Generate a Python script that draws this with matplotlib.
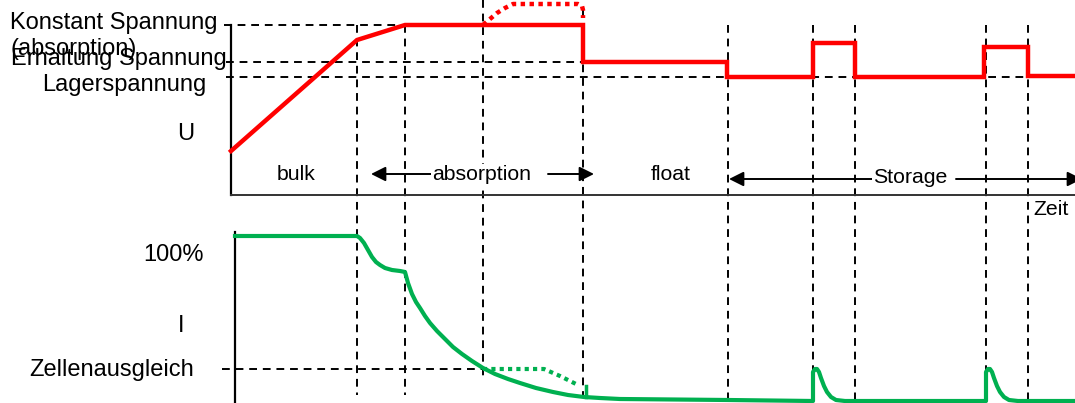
import matplotlib
matplotlib.use("Agg")
import matplotlib.pyplot as plt

plt.rcParams['font.family'] = ['Liberation Sans', 'DejaVu Sans']

# --- Spannung (U), oben ---
u_x = [231, 357, 405, 583, 583, 727, 727, 813, 813, 855, 855, 984, 984, 1028, 1028, 1075]
u_y = [151, 40, 25, 25, 62, 62, 77, 77, 43, 43, 77, 77, 47, 47, 76, 76]
u_dot_x = [483, 490, 497, 505, 513, 578, 582, 583, 583]
u_dot_y = [25, 19, 13, 8, 4, 4, 6, 10, 18]

# --- Strom (I), unten ---
i_x = [235, 357, 360, 364, 368, 372, 376, 380, 385, 392, 400, 405,
       408, 412, 416, 420, 425, 430, 437, 445, 453, 462, 472, 483, 495, 508, 520, 536, 553, 568, 584, 600, 620,
       728, 813, 813, 815, 817, 819, 821, 824, 827, 831, 836, 845,
       986, 986, 988, 990, 992, 994, 997, 1000, 1004, 1009, 1018, 1075]
i_y = [236, 236, 238, 243, 250, 257, 262, 265, 268, 270, 271, 272,
       283, 294, 302, 308, 316, 323, 331, 339, 347, 354, 361, 368, 374, 379, 383, 388, 392, 395, 397, 398, 399,
       400, 401, 372, 369, 369, 372, 378, 386, 392, 397, 400, 401,
       401, 372, 369, 369, 372, 378, 386, 392, 397, 400, 401, 401]
i_dot_x = [483, 544, 560, 578]
i_dot_y = [369, 369, 376, 385]

# Phasengrenzen (vertikal gestrichelt): x, y von, y bis
v_x = [357, 405, 483, 583, 728, 813, 855, 986, 1028]
v_top = [25, 25, 0, 10, 25, 25, 25, 25, 25]
v_bot = [395, 395, 376, 398, 400, 400, 400, 400, 400]

# Spannungsniveaus (horizontal gestrichelt)
h_y = [25, 62, 77, 369]
h_x0 = [224, 226, 226, 222]
h_x1 = [583, 583, 1040, 483]

left_labels = ["Konstant Spannung", "(absorption)", "Erhaltung Spannung", "Lagerspannung",
               "U", "100%", "I", "Zellenausgleich"]
left_pos = [(10, 29), (10, 55), (11, 65), (42, 91), (177, 140), (143, 261), (178, 332), (29, 376)]

red = '#FF0000'
green = '#00B050'

fig = plt.figure(figsize=(10.75, 4.03), dpi=100)
ax = fig.add_axes([0, 0, 1, 1])
ax.set_xlim(0, 1075)
ax.set_ylim(403, 0)
ax.axis('off')

dash = dict(color='black', lw=1.4, linestyle=(0, (4, 3)), zorder=1)
for x, a, b in zip(v_x, v_top, v_bot):
    ax.plot([x, x], [a, b], **dash)
for y, a, b in zip(h_y, h_x0, h_x1):
    ax.plot([a, b], [y, y], **dash)

# Achsen
ax.plot([231, 231], [25, 195], color='black', lw=1.6, zorder=2)
ax.plot([231, 1075], [195, 195], color='#333333', lw=1.4, zorder=2)
ax.plot([235, 235], [232, 403], color='black', lw=1.6, zorder=2)

ax.plot(u_x, u_y, color=red, lw=3.2, solid_joinstyle='miter', zorder=4)
ax.plot(u_dot_x, u_dot_y, color=red, lw=3.2, linestyle=(0, (1, 1)), zorder=4)
ax.plot(i_x, i_y, color=green, lw=3, solid_joinstyle='round', zorder=4)
ax.plot(i_dot_x, i_dot_y, color=green, lw=3, linestyle=(0, (1, 1)), zorder=4)
ax.plot([586, 586], [386, 397], color=green, lw=2.5, zorder=4)

for s, (x, y) in zip(left_labels, left_pos):
    ax.text(x, y, s, fontsize=17, ha='left', va='baseline', zorder=6)

# Pfeile
ap = dict(arrowstyle='-|>', color='black', lw=1.4, mutation_scale=22, shrinkA=0, shrinkB=0)
ax.annotate('', xy=(371, 174), xytext=(433, 174), arrowprops=ap, zorder=3)
ax.annotate('', xy=(594, 174), xytext=(548, 174), arrowprops=ap, zorder=3)
ax.annotate('', xy=(729, 179), xytext=(872, 179), arrowprops=ap, zorder=3)
ax.annotate('', xy=(1082, 179), xytext=(956, 179), arrowprops=ap, zorder=3, annotation_clip=False)

wb = dict(facecolor='white', edgecolor='none', pad=0.5)
ax.text(277, 180, "bulk", fontsize=15.3, va='baseline', zorder=6)
ax.text(432, 180, "absorption", fontsize=15.3, va='baseline', zorder=6, bbox=wb)
ax.text(651, 180, "float", fontsize=15.3, va='baseline', zorder=6)
ax.text(873, 183, "Storage", fontsize=15.3, va='baseline', zorder=6, bbox=wb)
ax.text(1033, 215, "Zeit", fontsize=15.3, va='baseline', zorder=6)

fig.savefig('out.png', dpi=100)
